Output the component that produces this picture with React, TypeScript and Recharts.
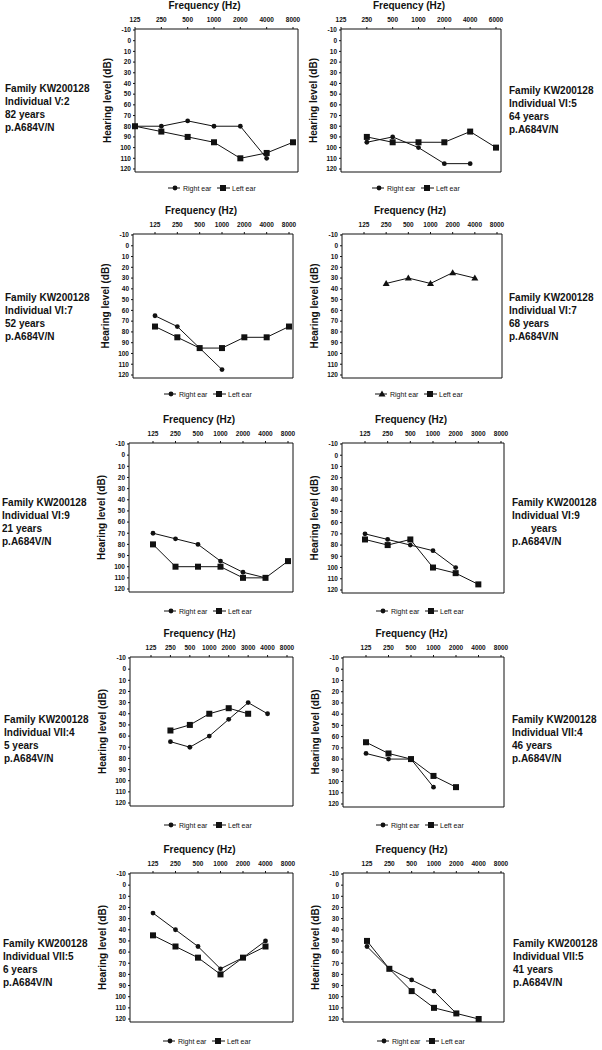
import React from 'react';
import { LineChart, Line, XAxis, YAxis } from 'recharts';

// frequency categories used on the top axes
const FREQ_STD = ['125', '250', '500', '1000', '2000', '4000', '8000'];
const FREQ_6K = ['125', '250', '500', '1000', '2000', '4000', '6000'];
const FREQ_3K = ['125', '250', '500', '1000', '2000', '3000', '8000'];
const FREQ_EIGHT = ['125', '250', '500', '1000', '2000', '3000', '4000', '8000'];
const DB_TICKS = [-10, 0, 10, 20, 30, 40, 50, 60, 70, 80, 90, 100, 110, 120];

// hearing levels (dB), null = not measured
const V2_RIGHT = [80, 80, 75, 80, 80, 110, null];
const V2_LEFT = [80, 85, 90, 95, 110, 105, 95];
const VI5_RIGHT = [null, 95, 90, 100, 115, 115, null];
const VI5_LEFT = [null, 90, 95, 95, 95, 85, 100];
const VI7A_RIGHT = [65, 75, 95, 115, null, null, null];
const VI7A_LEFT = [75, 85, 95, 95, 85, 85, 75];
const VI7B_RIGHT = [null, 35, 30, 35, 25, 30, null];
const VI7B_LEFT = [null, null, null, null, null, null, null];
const VI9A_RIGHT = [70, 75, 80, 95, 105, 110, null];
const VI9A_LEFT = [80, 100, 100, 100, 110, 110, 95];
const VI9B_RIGHT = [70, 75, 80, 85, 100, null, null];
const VI9B_LEFT = [75, 80, 75, 100, 105, 115, null];
const VII4A_RIGHT = [null, 65, 70, 60, 45, 30, 40, null];
const VII4A_LEFT = [null, 55, 50, 40, 35, 40, null, null];
const VII4B_RIGHT = [75, 80, 80, 105, null, null, null];
const VII4B_LEFT = [65, 75, 80, 95, 105, null, null];
const VII5A_RIGHT = [25, 40, 55, 75, 65, 50, null];
const VII5A_LEFT = [45, 55, 65, 80, 65, 55, null];
const VII5B_RIGHT = [55, 75, 85, 95, 115, null, null];
const VII5B_LEFT = [50, 75, 95, 110, 115, 120, null];

const INFO_V2 = ['Family KW200128', 'Individual V:2', '82 years', 'p.A684V/N'];
const INFO_VI5 = ['Family KW200128', 'Individual VI:5', '64 years', 'p.A684V/N'];
const INFO_VI7A = ['Family KW200128', 'Individual VI:7', '52 years', 'p.A684V/N'];
const INFO_VI7B = ['Family KW200128', 'Individual VI:7', '68 years', 'p.A684V/N'];
const INFO_VI9A = ['Family KW200128', 'Individual VI:9', '21 years', 'p.A684V/N'];
const INFO_VI9B = ['Family KW200128', 'Individual VI:9', 'years', 'p.A684V/N'];
const INFO_VII4A = ['Family KW200128', 'Individual VII:4', '5 years', 'p.A684V/N'];
const INFO_VII4B = ['Family KW200128', 'Individual VII:4', '46 years', 'p.A684V/N'];
const INFO_VII5A = ['Family KW200128', 'Individual VII:5', '6 years', 'p.A684V/N'];
const INFO_VII5B = ['Family KW200128', 'Individual VII:5', '41 years', 'p.A684V/N'];

const FONT = '"Liberation Sans", Arial, sans-serif';
const INK = '#111';

const Circle = (p: any) =>
  p.value == null || p.cy == null ? <g key={`c${p.index}`} /> : <circle key={`c${p.index}`} cx={p.cx} cy={p.cy} r={2.4} fill={INK} />;
const Square = (p: any) =>
  p.value == null || p.cy == null ? <g key={`s${p.index}`} /> : <rect key={`s${p.index}`} x={p.cx - 3} y={p.cy - 3} width={6} height={6} fill={INK} />;
const Triangle = (p: any) =>
  p.value == null || p.cy == null ? (
    <g key={`t${p.index}`} />
  ) : (
    <polygon key={`t${p.index}`} points={`${p.cx},${p.cy - 3.5} ${p.cx - 3.5},${p.cy + 2.5} ${p.cx + 3.5},${p.cy + 2.5}`} fill={INK} />
  );

const tickStyle = { fontSize: 6.5, fontWeight: 700, fill: INK, fontFamily: FONT };

const Audiogram = ({ freqs, right, left, box, tri }: any) => {
  const [l, r, t, b, padL, padR] = box;
  const data = freqs.map((f: string, i: number) => ({ f, right: right[i], left: left[i] }));
  // extra room on the right so the last tick label is not clipped
  const w = r - l + 56;
  const h = b - t + 34;
  return (
    <div style={{ position: 'absolute', left: l - 45, top: t - 32 }}>
      <LineChart width={w} height={h} data={data} margin={{ top: 0, right: 10, bottom: 1, left: 0 }}>
        <XAxis
          dataKey="f"
          orientation="top"
          height={32}
          interval={0}
          padding={{ left: padL, right: padR }}
          tick={tickStyle}
          tickSize={2}
          tickMargin={5}
          axisLine={{ stroke: INK }}
          tickLine={{ stroke: INK }}
          label={(p: any) => (
            <text
              x={p.viewBox.x + p.viewBox.width / 2 - 12}
              y={p.viewBox.y + 8}
              textAnchor="middle"
              dominantBaseline="central"
              fontSize={10}
              fontWeight={700}
              fontFamily={FONT}
              fill={INK}
            >
              Frequency (Hz)
            </text>
          )}
        />
        <XAxis xAxisId="b" dataKey="f" orientation="bottom" height={1} tick={false} tickLine={false} axisLine={{ stroke: INK }} />
        <YAxis
          type="number"
          domain={[-10, 120]}
          ticks={DB_TICKS}
          reversed
          interval={0}
          width={45}
          padding={{ top: 1, bottom: 3 }}
          tick={tickStyle}
          tickSize={2}
          tickMargin={2}
          axisLine={{ stroke: INK }}
          tickLine={{ stroke: INK }}
          label={(p: any) => {
            const x = p.viewBox.x + 17;
            const y = p.viewBox.y + p.viewBox.height / 2;
            return (
              <text
                x={x}
                y={y}
                transform={`rotate(-90 ${x} ${y})`}
                textAnchor="middle"
                dominantBaseline="central"
                fontSize={10}
                fontWeight={700}
                fontFamily={FONT}
                fill={INK}
              >
                Hearing level (dB)
              </text>
            );
          }}
        />
        <YAxis yAxisId="r" orientation="right" type="number" domain={[-10, 120]} width={1} tick={false} tickLine={false} axisLine={{ stroke: INK }} />
        <Line dataKey="right" stroke={INK} strokeWidth={1} dot={tri ? Triangle : Circle} activeDot={false} isAnimationActive={false} />
        <Line dataKey="left" stroke={INK} strokeWidth={1} dot={Square} activeDot={false} isAnimationActive={false} />
      </LineChart>
    </div>
  );
};

const EarLegend = ({ x, y, tri }: any) => (
  <svg style={{ position: 'absolute', left: x, top: y - 5 }} width={95} height={10}>
    <line x1={0} x2={12} y1={5} y2={5} stroke={INK} />
    {tri ? <polygon points="7,1.5 3.5,7.5 10.5,7.5" fill={INK} /> : <circle cx={7} cy={5} r={2.4} fill={INK} />}
    <text x={15} y={5} dominantBaseline="central" fontSize={7} fontFamily={FONT} fill={INK}>
      Right ear
    </text>
    <line x1={49} x2={62} y1={5} y2={5} stroke={INK} />
    <rect x={52} y={2} width={6} height={6} fill={INK} />
    <text x={64} y={5} dominantBaseline="central" fontSize={7} fontFamily={FONT} fill={INK}>
      Left ear
    </text>
  </svg>
);

const Info = ({ x, y, lines, indent }: any) => (
  <div
    style={{
      position: 'absolute',
      left: x,
      top: y - 6.5,
      fontFamily: FONT,
      fontWeight: 700,
      fontSize: 10,
      lineHeight: '13.3px',
      color: INK,
      whiteSpace: 'nowrap',
    }}
  >
    {lines.map((s: string, i: number) => (
      <div key={i} style={{ paddingLeft: indent === i ? 19 : 0 }}>
        {s}
      </div>
    ))}
  </div>
);

const App = () => (
  <div style={{ position: 'absolute', left: 0, top: 0, width: 602, height: 1050, background: '#fff', overflow: 'hidden' }}>
    {/* row 1 */}
    <Audiogram freqs={FREQ_STD} right={V2_RIGHT} left={V2_LEFT} box={[135, 298, 29, 172, 0, 5]} />
    <Info x={5} y={88} lines={INFO_V2} />
    <EarLegend x={168} y={188} />
    <Audiogram freqs={FREQ_6K} right={VI5_RIGHT} left={VI5_LEFT} box={[341, 501, 29, 172, 0, 5]} />
    <Info x={509} y={90} lines={INFO_VI5} />
    <EarLegend x={372} y={188} />

    {/* row 2 */}
    <Audiogram freqs={FREQ_STD} right={VI7A_RIGHT} left={VI7A_LEFT} box={[133, 293, 234, 378, 22, 4]} />
    <Info x={5} y={297} lines={INFO_VI7A} />
    <EarLegend x={164} y={394} />
    <Audiogram freqs={FREQ_STD} right={VI7B_RIGHT} left={VI7B_LEFT} box={[342, 502, 234, 378, 22, 5]} tri />
    <Info x={509} y={297} lines={INFO_VI7B} />
    <EarLegend x={375} y={394} tri />

    {/* row 3 */}
    <Audiogram freqs={FREQ_STD} right={VI9A_RIGHT} left={VI9A_LEFT} box={[129, 293, 443, 592, 24, 5]} />
    <Info x={2} y={502} lines={INFO_VI9A} />
    <EarLegend x={164} y={611} />
    <Audiogram freqs={FREQ_3K} right={VI9B_RIGHT} left={VI9B_LEFT} box={[342, 504, 443, 593, 23, 3]} />
    <Info x={512} y={502} lines={INFO_VI9B} indent={2} />
    <EarLegend x={376} y={611} />

    {/* row 4 */}
    <Audiogram freqs={FREQ_EIGHT} right={VII4A_RIGHT} left={VII4A_LEFT} box={[130, 293, 657, 806, 21, 6]} />
    <Info x={4} y={719} lines={INFO_VII4A} />
    <EarLegend x={164} y={825} />
    <Audiogram freqs={FREQ_STD} right={VII4B_RIGHT} left={VII4B_LEFT} box={[343, 504, 657, 807, 23, 3]} />
    <Info x={512} y={719} lines={INFO_VII4B} />
    <EarLegend x={376} y={825} />

    {/* row 5 */}
    <Audiogram freqs={FREQ_STD} right={VII5A_RIGHT} left={VII5A_LEFT} box={[130, 293, 873, 1022, 23, 5]} />
    <Info x={3} y={943} lines={INFO_VII5A} />
    <EarLegend x={163} y={1041} />
    <Audiogram freqs={FREQ_STD} right={VII5B_RIGHT} left={VII5B_LEFT} box={[343, 504, 873, 1022, 24, 3]} />
    <Info x={513} y={943} lines={INFO_VII5B} />
    <EarLegend x={377} y={1041} />
  </div>
);

export default App;
